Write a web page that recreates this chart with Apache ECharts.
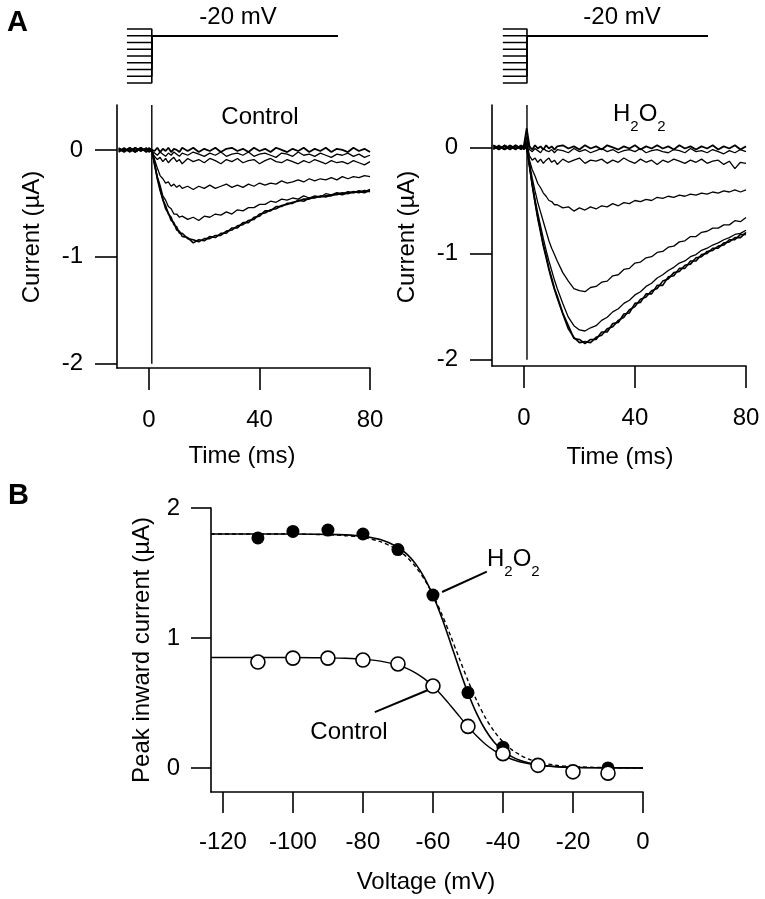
<!DOCTYPE html>
<html><head><meta charset="utf-8">
<script src="https://cdn.jsdelivr.net/npm/echarts@6/dist/echarts.min.js"></script>
<style>html,body{margin:0;padding:0;background:#fff}#c{width:765px;height:899px}</style>
</head><body><div id="c"></div>
<script>
// ---------- Panel A: time base (ms) ----------
const T = [-11,-9,-7,-5,-3,-1,0,1,2,3,4,5,6,7,8,9,10,11,12,14,16,18,20,22,24,26,28,30,32,34,36,38,40,42,44,46,48,50,52,54,56,58,60,62,64,66,68,70,72,74,76,78,80];
const TIME_TICKS = [0,40,80];
const CURRENT_TICKS = [-2,-1,0];

// Control traces (µA)
const CTRL_A = [0.01,-0.02,0.02,-0.01,0.02,-0.02,0.01, 0.00,-0.01,0.02,-0.02,0.01,-0.01,0.02,-0.02,0.01,0.00,-0.02,0.02, -0.01,0.02,-0.02,0.01,-0.01,0.02,-0.02,0.01,0.02,-0.01,0.01,-0.02,0.02,-0.01,0.01,-0.02,0.02,0.00,-0.02,0.01,-0.01,0.02,-0.02,0.01,-0.01,0.02,-0.02,0.01,0.00,-0.02,0.02,-0.01,0.01,-0.02];
const CTRL_B = [-0.01,0.01,-0.02,0.02,-0.01,0.01,-0.01, -0.01,-0.03,-0.05,-0.02,-0.04,-0.06,-0.03,-0.05,-0.02,-0.04,-0.06,-0.03, -0.05,-0.02,-0.04,-0.06,-0.03,-0.05,-0.02,-0.06,-0.04,-0.03,-0.05,-0.02,-0.06,-0.04,-0.03,-0.05,-0.07,-0.03,-0.04,-0.06,-0.02,-0.05,-0.04,-0.06,-0.03,-0.05,-0.07,-0.04,-0.05,-0.03,-0.06,-0.04,-0.07,-0.05];
const CTRL_C = [0.02,-0.01,0.01,-0.02,0.01,-0.01,0.00, -0.02,-0.06,-0.09,-0.07,-0.11,-0.08,-0.12,-0.09,-0.07,-0.11,-0.09,-0.13, -0.08,-0.11,-0.09,-0.12,-0.08,-0.10,-0.13,-0.09,-0.11,-0.08,-0.12,-0.10,-0.09,-0.13,-0.10,-0.08,-0.11,-0.12,-0.09,-0.11,-0.13,-0.10,-0.12,-0.09,-0.11,-0.13,-0.10,-0.12,-0.11,-0.13,-0.10,-0.12,-0.14,-0.11];
const CTRL_D = [-0.01,0.02,-0.02,0.01,-0.01,0.02,-0.01, 0.00,-0.09,-0.17,-0.24,-0.27,-0.31,-0.30,-0.34,-0.32,-0.35,-0.33,-0.36, -0.34,-0.37,-0.34,-0.36,-0.33,-0.36,-0.34,-0.32,-0.35,-0.33,-0.35,-0.32,-0.34,-0.31,-0.33,-0.31,-0.32,-0.29,-0.31,-0.30,-0.28,-0.30,-0.27,-0.29,-0.27,-0.28,-0.26,-0.28,-0.25,-0.27,-0.25,-0.26,-0.24,-0.25];
const CTRL_E = [0.01,-0.01,0.02,-0.02,0.01,-0.01,0.02, 0.00,-0.12,-0.25,-0.33,-0.43,-0.47,-0.53,-0.55,-0.60,-0.60,-0.63,-0.62, -0.65,-0.63,-0.66,-0.62,-0.63,-0.60,-0.61,-0.58,-0.60,-0.56,-0.57,-0.54,-0.54,-0.51,-0.51,-0.48,-0.49,-0.46,-0.47,-0.45,-0.46,-0.43,-0.45,-0.43,-0.44,-0.41,-0.42,-0.40,-0.41,-0.39,-0.40,-0.38,-0.39,-0.37];
const CTRL_F = [-0.02,0.01,-0.01,0.02,-0.01,0.01,-0.02, 0.00,-0.14,-0.26,-0.36,-0.47,-0.52,-0.60,-0.63,-0.70,-0.72,-0.78,-0.78, -0.83,-0.84,-0.86,-0.83,-0.83,-0.80,-0.80,-0.76,-0.75,-0.71,-0.70,-0.66,-0.65,-0.60,-0.59,-0.56,-0.55,-0.52,-0.51,-0.49,-0.48,-0.46,-0.46,-0.44,-0.44,-0.43,-0.43,-0.41,-0.42,-0.40,-0.40,-0.39,-0.40,-0.38];
const CTRL_G = [0.01,-0.01,0.01,-0.02,0.02,-0.01,0.01, 0.00,-0.13,-0.27,-0.38,-0.46,-0.55,-0.59,-0.66,-0.68,-0.75,-0.76,-0.81, -0.82,-0.87,-0.84,-0.85,-0.81,-0.82,-0.78,-0.78,-0.73,-0.73,-0.68,-0.68,-0.63,-0.62,-0.57,-0.57,-0.53,-0.53,-0.50,-0.50,-0.47,-0.48,-0.45,-0.45,-0.43,-0.44,-0.42,-0.42,-0.40,-0.41,-0.39,-0.40,-0.38,-0.39];

// H2O2 traces (µA)
const H2O2_A = [0.02,-0.01,0.01,-0.02,0.02,-0.01,0.02, 0.18,0.01,-0.02,0.02,-0.01,0.01,-0.02,0.02,-0.01,0.01,-0.02,0.01, 0.02,-0.01,0.01,-0.02,0.02,-0.01,0.01,-0.02,0.02,0.00,-0.02,0.01,-0.01,0.02,-0.02,0.01,-0.01,0.02,-0.01,0.01,-0.02,0.02,-0.01,0.01,-0.02,0.01,-0.01,0.02,-0.02,0.01,-0.01,0.02,-0.02,0.01];
const H2O2_B = [-0.01,0.02,-0.02,0.01,-0.01,0.01,-0.01, 0.10,-0.02,-0.04,-0.01,-0.03,-0.05,-0.01,-0.03,-0.04,-0.02,-0.05,-0.02, -0.03,-0.05,-0.01,-0.04,-0.02,-0.05,-0.03,-0.01,-0.04,-0.02,-0.05,-0.03,-0.02,-0.04,-0.01,-0.05,-0.03,-0.02,-0.04,-0.05,-0.02,-0.03,-0.05,-0.01,-0.04,-0.03,-0.05,-0.02,-0.04,-0.06,-0.03,-0.05,-0.02,-0.04];
const H2O2_C = [0.01,-0.02,0.02,-0.01,0.01,-0.02,0.01, 0.05,-0.08,-0.12,-0.10,-0.14,-0.11,-0.15,-0.12,-0.10,-0.14,-0.12,-0.16, -0.11,-0.14,-0.12,-0.10,-0.15,-0.12,-0.13,-0.11,-0.15,-0.12,-0.14,-0.10,-0.13,-0.15,-0.11,-0.14,-0.12,-0.16,-0.12,-0.14,-0.11,-0.13,-0.15,-0.12,-0.14,-0.11,-0.15,-0.13,-0.12,-0.16,-0.13,-0.20,-0.14,-0.15];
const H2O2_D = [-0.01,0.01,-0.02,0.02,-0.01,0.02,-0.01, 0.05,-0.12,-0.21,-0.27,-0.34,-0.38,-0.43,-0.46,-0.50,-0.51,-0.54,-0.54, -0.57,-0.56,-0.60,-0.57,-0.59,-0.56,-0.58,-0.55,-0.56,-0.53,-0.55,-0.52,-0.53,-0.50,-0.51,-0.49,-0.50,-0.47,-0.48,-0.46,-0.47,-0.45,-0.46,-0.44,-0.45,-0.43,-0.44,-0.42,-0.43,-0.41,-0.42,-0.40,-0.42,-0.40];
const H2O2_E = [0.02,-0.01,0.01,-0.01,0.02,-0.02,0.01, 0.00,-0.15,-0.29,-0.41,-0.52,-0.61,-0.70,-0.79,-0.88,-0.95,-1.01,-1.07, -1.18,-1.26,-1.33,-1.35,-1.36,-1.32,-1.31,-1.27,-1.26,-1.21,-1.20,-1.15,-1.14,-1.09,-1.08,-1.04,-1.03,-0.99,-0.98,-0.94,-0.93,-0.89,-0.88,-0.84,-0.84,-0.80,-0.79,-0.76,-0.76,-0.73,-0.73,-0.69,-0.70,-0.66];
const H2O2_F = [-0.02,0.01,-0.01,0.02,-0.01,0.01,-0.02, 0.00,-0.17,-0.34,-0.49,-0.62,-0.74,-0.86,-0.97,-1.07,-1.16,-1.25,-1.33, -1.47,-1.60,-1.68,-1.72,-1.73,-1.70,-1.68,-1.63,-1.60,-1.55,-1.52,-1.47,-1.44,-1.39,-1.36,-1.31,-1.28,-1.23,-1.20,-1.16,-1.13,-1.09,-1.07,-1.03,-1.01,-0.97,-0.95,-0.92,-0.90,-0.87,-0.85,-0.82,-0.81,-0.78];
const H2O2_G = [0.01,-0.02,0.02,-0.01,0.01,-0.01,0.02, 0.00,-0.18,-0.36,-0.52,-0.67,-0.80,-0.93,-1.04,-1.15,-1.25,-1.34,-1.42, -1.57,-1.71,-1.79,-1.84,-1.83,-1.84,-1.79,-1.77,-1.71,-1.69,-1.63,-1.60,-1.53,-1.50,-1.43,-1.41,-1.35,-1.33,-1.26,-1.24,-1.18,-1.17,-1.11,-1.10,-1.04,-1.03,-0.98,-0.97,-0.93,-0.92,-0.87,-0.87,-0.82,-0.82];
const H2O2_H = [-0.01,0.01,-0.02,0.01,-0.02,0.02,-0.01, 0.00,-0.17,-0.35,-0.51,-0.66,-0.78,-0.92,-1.02,-1.14,-1.23,-1.33,-1.40, -1.56,-1.68,-1.80,-1.81,-1.85,-1.81,-1.81,-1.74,-1.74,-1.66,-1.65,-1.57,-1.56,-1.47,-1.46,-1.38,-1.38,-1.30,-1.30,-1.22,-1.21,-1.14,-1.14,-1.07,-1.07,-1.01,-1.00,-0.95,-0.95,-0.90,-0.89,-0.85,-0.85,-0.80];

// Voltage protocol (schematic)
const PREPULSE_MV = [-10,-20,-30,-40,-50,-60,-70,-80,-90];
const TEST_MV = -20;
const PROTO_T_CTRL = [-8, 1.0, 68.4];   // prepulse start, step time, end
const PROTO_T_H2O2 = [-7.6, 1.1, 66.3];
const STEP_T_CTRL = 1.0, STEP_T_H2O2 = 1.1;

// ---------- Panel B ----------
const VOLT = [-110,-100,-90,-80,-70,-60,-50,-40,-30,-20,-10];
const PEAK_H2O2 = [1.77,1.82,1.83,1.80,1.68,1.33,0.58,0.16,0.02,-0.03,0.00];
const PEAK_CTRL = [0.815,0.845,0.845,0.83,0.80,0.63,0.32,0.11,0.02,-0.03,-0.04];
const FIT_V = [-123.4,-110,-100,-90,-85,-80,-75,-70,-67.5,-65,-62.5,-60,-57.5,-55,-52.5,-50,-47.5,-45,-42.5,-40,-37.5,-35,-32.5,-30,-25,-20,-10,0];
const FIT_H2O2 = [1.80,1.80,1.80,1.797,1.793,1.782,1.757,1.699,1.647,1.572,1.467,1.328,1.158,0.964,0.764,0.577,0.418,0.292,0.198,0.132,0.087,0.057,0.037,0.024,0.010,0.004,0.001,0];
const FIT_CTRL_SCALED = [1.80,1.80,1.799,1.794,1.787,1.773,1.741,1.677,1.623,1.550,1.454,1.332,1.185,1.019,0.844,0.673,0.518,0.386,0.281,0.200,0.141,0.098,0.067,0.046,0.021,0.010,0.002,0];
const FIT_CTRL = [0.85,0.85,0.85,0.847,0.844,0.837,0.822,0.792,0.766,0.732,0.687,0.629,0.560,0.481,0.399,0.318,0.245,0.182,0.133,0.094,0.067,0.046,0.032,0.022,0.010,0.005,0.001,0];
const VOLT_TICKS = [-120,-100,-80,-60,-40,-20,0];
const PEAK_TICKS = [0,1,2];
const LEADER_H2O2 = [[-57.4,1.354],[-44.6,1.51]];
const LEADER_CTRL = [[-76.6,0.43],[-61.4,0.60]];

// ---------- build ----------
const FONT = '"Liberation Sans", Arial, Helvetica, sans-serif';
const BLACK = '#000';
const pairs = (xs, ys) => xs.slice(0, Math.min(xs.length, ys.length)).map((x, i) => [x, ys[i]]);

function traceSeries(arr, idx, w) {
  return { type: 'line', xAxisIndex: idx, yAxisIndex: idx, data: pairs(T, arr), showSymbol: false,
           lineStyle: { color: BLACK, width: w || 1.3 }, silent: true, z: 2 };
}
function protoSeries(pt, idx) {
  return PREPULSE_MV.map(v => ({ type: 'line', xAxisIndex: idx, yAxisIndex: idx, showSymbol: false, silent: true,
    data: [[pt[0], v], [pt[1], v], [pt[1], TEST_MV], [pt[2], TEST_MV]],
    lineStyle: { color: BLACK, width: 1.6 } }));
}
const axLine = () => ({ show: true, onZero: false, lineStyle: { color: BLACK, width: 1.6 } });
function traceAxes(idx, xmin, ymin, ymax) {
  return {
    x: { type: 'value', gridIndex: idx, min: xmin, max: 80, axisLine: axLine(),
         axisTick: { show: true, customValues: TIME_TICKS, length: 22, lineStyle: { color: BLACK, width: 1.6 } },
         axisLabel: { customValues: TIME_TICKS, margin: 40, fontSize: 24, color: BLACK, fontFamily: FONT },
         splitLine: { show: false } },
    y: { type: 'value', gridIndex: idx, min: ymin, max: ymax, axisLine: axLine(),
         axisTick: { show: true, customValues: CURRENT_TICKS, length: 22, lineStyle: { color: BLACK, width: 1.6 } },
         axisLabel: { customValues: CURRENT_TICKS, margin: 34, fontSize: 24, color: BLACK, fontFamily: FONT },
         splitLine: { show: false } }
  };
}
const axL = traceAxes(0, -11.6, -2.04, 0.42);
const axR = traceAxes(1, -11.5, -2.06, 0.40);

const hidden = (idx, min, max) => ({ type: 'value', gridIndex: idx, min, max, show: false });

function txt(x, y, text, opts, rot) {
  return { type: 'text', x, y, rotation: rot || 0, silent: true,
    style: Object.assign({ text, fill: BLACK, font: '24px ' + FONT, align: 'center', verticalAlign: 'middle' }, opts || {}) };
}
function h2o2(x, y) {
  return { type: 'text', x, y, silent: true, style: {
    text: '{n|H}{s|2}{n|O}{s|2}', align: 'left', verticalAlign: 'top', fill: BLACK,
    rich: { n: { fontSize: 24, fontFamily: FONT, fill: BLACK, verticalAlign: 'top' },
            s: { fontSize: 15, fontFamily: FONT, fill: BLACK, verticalAlign: 'top', padding: [17, 0, 0, 0] } } } };
}

const option = {
  animation: false,
  backgroundColor: '#fff',
  grid: [
    { left: 117, top: 105, width: 253, height: 263 },
    { left: 492, top: 105, width: 254, height: 261 },
    { left: 117, top: 22.25, width: 253, height: 67.5 },
    { left: 492, top: 22.25, width: 254, height: 67.5 },
    { left: 211, top: 508, width: 432, height: 284 }
  ],
  xAxis: [axL.x, axR.x, hidden(2, -11.6, 80), hidden(3, -11.5, 80),
    { type: 'value', gridIndex: 4, min: -123.4, max: 0, axisLine: axLine(),
      axisTick: { show: true, customValues: VOLT_TICKS, length: 21, lineStyle: { color: BLACK, width: 1.6 } },
      axisLabel: { customValues: VOLT_TICKS, margin: 38, fontSize: 24, color: BLACK, fontFamily: FONT },
      splitLine: { show: false } }],
  yAxis: [axL.y, axR.y, hidden(2, -100, 0), hidden(3, -100, 0),
    { type: 'value', gridIndex: 4, min: -0.185, max: 2, axisLine: axLine(),
      axisTick: { show: true, customValues: PEAK_TICKS, length: 20, lineStyle: { color: BLACK, width: 1.6 } },
      axisLabel: { customValues: PEAK_TICKS, margin: 31, fontSize: 24, color: BLACK, fontFamily: FONT },
      splitLine: { show: false } }],
  series: [
    traceSeries(CTRL_A, 0, 1.8), traceSeries(CTRL_B, 0), traceSeries(CTRL_C, 0), traceSeries(CTRL_D, 0),
    traceSeries(CTRL_E, 0), traceSeries(CTRL_F, 0, 1.6), traceSeries(CTRL_G, 0, 1.6),
    traceSeries(H2O2_A, 1, 1.8), traceSeries(H2O2_B, 1), traceSeries(H2O2_C, 1), traceSeries(H2O2_D, 1),
    traceSeries(H2O2_E, 1), traceSeries(H2O2_F, 1), traceSeries(H2O2_G, 1, 1.6), traceSeries(H2O2_H, 1, 1.6),
    { type: 'line', xAxisIndex: 0, yAxisIndex: 0, showSymbol: false, silent: true,
      data: [[STEP_T_CTRL, 0.42], [STEP_T_CTRL, -2.0]], lineStyle: { color: BLACK, width: 1.4 } },
    { type: 'line', xAxisIndex: 1, yAxisIndex: 1, showSymbol: false, silent: true,
      data: [[STEP_T_H2O2, 0.40], [STEP_T_H2O2, -2.0]], lineStyle: { color: BLACK, width: 1.4 } },
    ...protoSeries(PROTO_T_CTRL, 2),
    ...protoSeries(PROTO_T_H2O2, 3),
    { type: 'line', xAxisIndex: 4, yAxisIndex: 4, data: pairs(FIT_V, FIT_CTRL), showSymbol: false, smooth: 0.3, silent: true,
      lineStyle: { color: BLACK, width: 1.4 }, z: 2,
      markLine: { silent: true, symbol: ['none', 'none'], label: { show: false }, lineStyle: { color: BLACK, width: 2, type: 'solid' },
        data: [[{ coord: LEADER_CTRL[0] }, { coord: LEADER_CTRL[1] }]] } },
    { type: 'line', xAxisIndex: 4, yAxisIndex: 4, data: pairs(FIT_V, FIT_CTRL_SCALED), showSymbol: false, smooth: 0.3, silent: true,
      lineStyle: { color: BLACK, width: 1.4, type: [4, 3] }, z: 2 },
    { type: 'line', xAxisIndex: 4, yAxisIndex: 4, data: pairs(FIT_V, FIT_H2O2), showSymbol: false, smooth: 0.3, silent: true,
      lineStyle: { color: BLACK, width: 1.6 }, z: 2,
      markLine: { silent: true, symbol: ['none', 'none'], label: { show: false }, lineStyle: { color: BLACK, width: 2, type: 'solid' },
        data: [[{ coord: LEADER_H2O2[0] }, { coord: LEADER_H2O2[1] }]] } },
    { type: 'scatter', xAxisIndex: 4, yAxisIndex: 4, data: pairs(VOLT, PEAK_H2O2), symbol: 'circle', symbolSize: 13,
      itemStyle: { color: BLACK, opacity: 1 }, silent: true, z: 4 },
    { type: 'scatter', xAxisIndex: 4, yAxisIndex: 4, data: pairs(VOLT, PEAK_CTRL), symbol: 'circle', symbolSize: 14,
      itemStyle: { color: '#fff', borderColor: BLACK, borderWidth: 1.6, opacity: 1 }, silent: true, z: 5 }
  ],
  graphic: [
    txt(7, 23, 'A', { font: 'bold 29px ' + FONT, align: 'left' }),
    txt(8, 496, 'B', { font: 'bold 29px ' + FONT, align: 'left' }),
    txt(238, 17, '-20 mV'),
    txt(622, 17, '-20 mV'),
    txt(260, 117, 'Control'),
    h2o2(613, 102),
    txt(32, 237, 'Current (µA)', null, Math.PI / 2),
    txt(407, 237, 'Current (µA)', null, Math.PI / 2),
    txt(242, 456, 'Time (ms)'),
    txt(620, 457, 'Time (ms)'),
    txt(142, 650, 'Peak inward current (µA)', null, Math.PI / 2),
    txt(426, 882, 'Voltage (mV)'),
    txt(349, 732, 'Control'),
    h2o2(487, 547)
  ]
};

echarts.init(document.getElementById('c'), null, { renderer: 'canvas' }).setOption(option);
</script></body></html>
